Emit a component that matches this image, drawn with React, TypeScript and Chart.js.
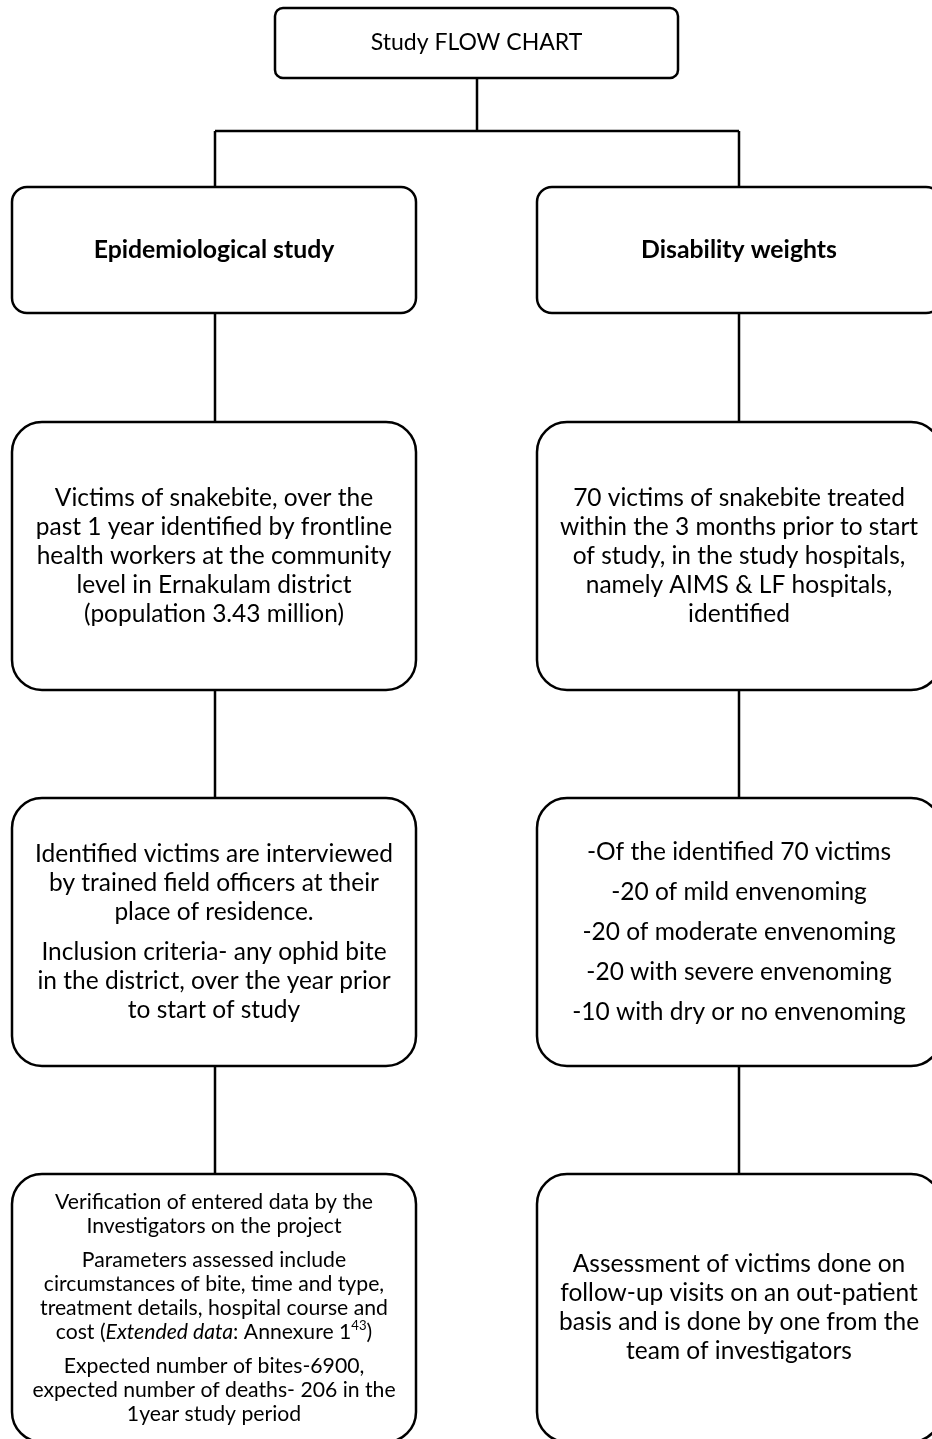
import { useEffect, useRef } from "react";
import Chart from "chart.js/auto";

// ---- content (texts of the flow chart) ----
const titleLines = [["Study FLOW CHART"]];
const leftHeader = [["Epidemiological study"]];
const rightHeader = [["Disability weights"]];
const leftStep1 = [[
  "Victims of snakebite, over the",
  "past 1 year identified by frontline",
  "health workers at the community",
  "level in Ernakulam district",
  "(population 3.43 million)",
]];
const leftStep2 = [
  ["Identified victims are interviewed", "by trained field officers at their", "place of residence."],
  ["Inclusion criteria- any ophid bite", "in the district, over the year prior", "to start of study"],
];
const leftStep3 = [
  ["Verification of entered data by the", "Investigators on the project"],
  ["Parameters assessed include", "circumstances of bite, time and type,", "treatment details, hospital course and", "cost (*Extended data*: Annexure 1^43^)"],
  ["Expected number of bites-6900,", "expected number of deaths- 206 in the", "1year study period"],
];
const rightStep1 = [[
  "70 victims of snakebite treated",
  "within the 3 months prior to start",
  "of study, in the study hospitals,",
  "namely AIMS & LF hospitals,",
  "identified",
]];
const rightStep2 = [
  ["-Of the identified 70 victims"],
  ["-20 of mild envenoming"],
  ["-20 of moderate envenoming"],
  ["-20 with severe envenoming"],
  ["-10 with dry or no envenoming"],
];
const rightStep3 = [[
  "Assessment of victims done on",
  "follow-up visits on an out-patient",
  "basis and is done by one from the",
  "team of investigators",
]];

// ---- layout (positions / styles, in canvas units) ----
const W = 932;
const H = 1439;
const FONT = '"Lato", "Open Sans", sans-serif';

type Box = {
  x0: number; y0: number; x1: number; y1: number; r: number;
  text: string[][]; size: number; lh: number; gap: number; bold?: boolean;
};

const boxes: Box[] = [
  { x0: 275, y0: 8, x1: 678, y1: 78, r: 8, text: titleLines, size: 23, lh: 29, gap: 0 },
  { x0: 12, y0: 187, x1: 416, y1: 313, r: 15, text: leftHeader, size: 24.8, lh: 29, gap: 0, bold: true },
  { x0: 537, y0: 187, x1: 941, y1: 313, r: 15, text: rightHeader, size: 24.8, lh: 29, gap: 0, bold: true },
  { x0: 12, y0: 422, x1: 416, y1: 690, r: 30, text: leftStep1, size: 24.5, lh: 29, gap: 0 },
  { x0: 537, y0: 422, x1: 941, y1: 690, r: 30, text: rightStep1, size: 24.5, lh: 29, gap: 0 },
  { x0: 12, y0: 798, x1: 416, y1: 1066, r: 30, text: leftStep2, size: 24.5, lh: 29, gap: 11 },
  { x0: 537, y0: 798, x1: 941, y1: 1066, r: 30, text: rightStep2, size: 24.5, lh: 29, gap: 11 },
  { x0: 12, y0: 1174, x1: 416, y1: 1442, r: 30, text: leftStep3, size: 21.2, lh: 24, gap: 10 },
  { x0: 537, y0: 1174, x1: 941, y1: 1442, r: 30, text: rightStep3, size: 24.5, lh: 29, gap: 0 },
];

const connectors: number[][][] = [
  [[477, 78], [477, 131]],
  [[215, 131], [739, 131]],
  [[215, 131], [215, 187]],
  [[739, 131], [739, 187]],
  [[215, 313], [215, 422]],
  [[739, 313], [739, 422]],
  [[215, 690], [215, 798]],
  [[739, 690], [739, 798]],
  [[215, 1066], [215, 1174]],
  [[739, 1066], [739, 1174]],
];

type Run = { t: string; i: boolean; s: boolean };
function parse(line: string): Run[] {
  const runs: Run[] = [];
  let it = false, sup = false, buf = "";
  for (const ch of line) {
    if (ch === "*" || ch === "^") {
      if (buf) runs.push({ t: buf, i: it, s: sup });
      buf = "";
      if (ch === "*") it = !it; else sup = !sup;
    } else buf += ch;
  }
  if (buf) runs.push({ t: buf, i: it, s: sup });
  return runs;
}

function fontFor(run: Run, size: number, bold?: boolean) {
  const sz = run.s ? size * 0.62 : size;
  return `${run.i ? "italic " : ""}${bold ? "bold " : ""}${sz}px ${FONT}`;
}

const boxPlugin = {
  id: "flowBoxes",
  afterDatasetsDraw(chart: any) {
    const ctx: CanvasRenderingContext2D = chart.ctx;
    const xs = chart.scales.x;
    const ys = chart.scales.y;
    ctx.save();
    for (const b of boxes) {
      const x0 = xs.getPixelForValue(b.x0);
      const x1 = xs.getPixelForValue(b.x1);
      const y0 = ys.getPixelForValue(b.y0);
      const y1 = ys.getPixelForValue(b.y1);
      ctx.beginPath();
      ctx.roundRect(x0, y0, x1 - x0, y1 - y0, b.r);
      ctx.fillStyle = "#ffffff";
      ctx.fill();
      ctx.lineWidth = 2.5;
      ctx.strokeStyle = "#000000";
      ctx.stroke();

      // text block, centred in box
      const nLines = b.text.reduce((a, p) => a + p.length, 0);
      const total = (nLines - 1) * b.lh + (b.text.length - 1) * b.gap;
      const cx = (x0 + x1) / 2;
      let y = (y0 + y1) / 2 - total / 2;
      ctx.fillStyle = "#000000";
      ctx.textBaseline = "middle";
      ctx.textAlign = "left";
      b.text.forEach((para, pi) => {
        para.forEach((line) => {
          const runs = parse(line);
          let wsum = 0;
          const widths = runs.map((r) => {
            ctx.font = fontFor(r, b.size, b.bold);
            const w = ctx.measureText(r.t).width;
            wsum += w;
            return w;
          });
          let x = cx - wsum / 2;
          runs.forEach((r, k) => {
            ctx.font = fontFor(r, b.size, b.bold);
            ctx.fillText(r.t, x, r.s ? y - b.size * 0.3 : y);
            x += widths[k];
          });
          y += b.lh;
        });
        if (pi < b.text.length - 1) y += b.gap;
      });
    }
    ctx.restore();
  },
};

export default function App() {
  const ref = useRef<HTMLCanvasElement | null>(null);
  useEffect(() => {
    if (!ref.current) return;
    const chart = new Chart(ref.current, {
      type: "scatter",
      data: {
        datasets: connectors.map((seg) => ({
          type: "line" as const,
          data: seg.map(([x, y]) => ({ x, y })),
          borderColor: "#000000",
          borderWidth: 2.5,
          pointRadius: 0,
          showLine: true,
          fill: false,
          clip: false as any,
        })),
      },
      options: {
        responsive: false,
        animation: false,
        events: [],
        layout: { padding: 0 },
        plugins: { legend: { display: false }, tooltip: { enabled: false } },
        scales: {
          x: { type: "linear", min: 0, max: W, display: false },
          y: { type: "linear", min: 0, max: H, reverse: true, display: false },
        },
      },
      plugins: [boxPlugin],
    } as any);
    (document as any).fonts?.ready?.then(() => chart.draw());
    return () => chart.destroy();
  }, []);
  return (
    <div style={{ position: "absolute", left: 0, top: 0, width: W, height: H, background: "#fff" }}>
      <canvas ref={ref} width={W} height={H} style={{ display: "block" }} />
    </div>
  );
}
